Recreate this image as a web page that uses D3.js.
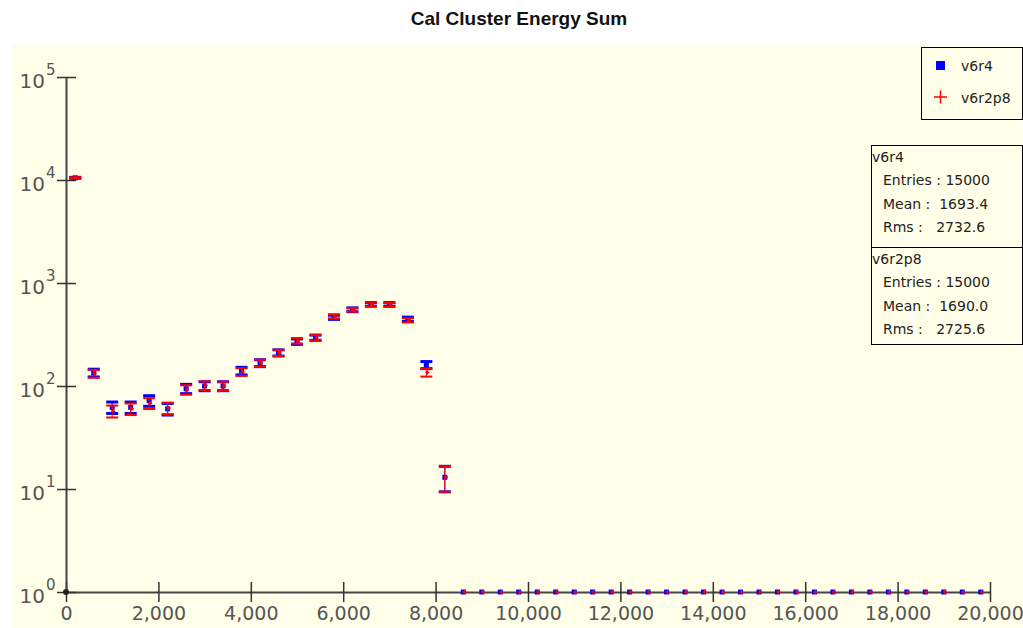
<!DOCTYPE html>
<html>
<head>
<meta charset="utf-8">
<script src="https://cdn.jsdelivr.net/npm/d3@7"></script>
<style>
  body { margin: 0; background: #fff; }
  svg { display: block; }
</style>
</head>
<body>
<svg class="chart" width="1023" height="628"></svg>
<script>
// histogram bins (400 wide), centers in energy units
const binCenters = [200, 600, 1000, 1400, 1800, 2200, 2600, 3000, 3400, 3800,
  4200, 4600, 5000, 5400, 5800, 6200, 6600, 7000, 7400, 7800,
  8200, 8600, 9000, 9400, 9800, 10200, 10600, 11000, 11400, 11800,
  12200, 12600, 13000, 13400, 13800, 14200, 14600, 15000, 15400, 15800,
  16200, 16600, 17000, 17400, 17800, 18200, 18600, 19000, 19400, 19800];
const v6r4 = [10500, 134, 62, 62, 72, 60, 94, 100, 100, 140,
  167, 210, 270, 295, 465, 550, 620, 620, 445, 160,
  13, 0, 0, 0, 0, 0, 0, 0, 0, 0,
  0, 0, 0, 0, 0, 0, 0, 0, 0, 0,
  0, 0, 0, 0, 0, 0, 0, 0, 0, 0];
const v6r2p8 = [10520, 132, 57, 60, 68, 61, 92, 101, 100, 137,
  167, 210, 275, 295, 475, 550, 620, 615, 435, 135,
  13, 0, 0, 0, 0, 0, 0, 0, 0, 0,
  0, 0, 0, 0, 0, 0, 0, 0, 0, 0,
  0, 0, 0, 0, 0, 0, 0, 0, 0, 0];
const xTicks = [0, 2000, 4000, 6000, 8000, 10000, 12000, 14000, 16000, 18000, 20000];
const yTicks = [1, 10, 100, 1000, 10000, 100000];
const seriesNames = ["v6r4", "v6r2p8"];
const statsRows = [
  ["Entries : 15000", "Mean :  1693.4", "Rms :   2732.6"],
  ["Entries : 15000", "Mean :  1690.0", "Rms :   2725.6"]
];

const bg = "#fffee8";
const svg = d3.select(".chart");

svg.append("rect").attr("x", 12).attr("y", 45).attr("width", 1011).attr("height", 583).attr("fill", bg);

svg.append("text").text("Cal Cluster Energy Sum")
  .attr("x", 519).attr("y", 25).attr("text-anchor", "middle")
  .attr("font-family", "Liberation Sans, Arial, sans-serif").attr("font-weight", "bold")
  .attr("font-size", 19).attr("fill", "#111");

const x = d3.scaleLinear().domain([0, 20000]).range([66, 990]);
const y = d3.scaleLog().domain([1, 100000]).range([592, 77]);

// axes
const gx = svg.append("g").attr("transform", "translate(0,592)")
  .call(d3.axisBottom(x).tickValues(xTicks).tickFormat(d3.format(",")).tickSizeOuter(0));
gx.select(".domain").attr("stroke", "#444").attr("stroke-width", 2);
gx.selectAll(".tick line").attr("y1", -10).attr("y2", 10).attr("stroke", "#333").attr("stroke-width", 1.5);
gx.selectAll(".tick text").attr("y", 15).attr("dy", 13)
  .attr("font-family", "DejaVu Sans, sans-serif").attr("font-size", 19).attr("fill", "#555");

const gy = svg.append("g").attr("transform", "translate(66,0)")
  .call(d3.axisLeft(y).tickValues(yTicks).tickFormat("").tickSizeOuter(0));
gy.select(".domain").attr("stroke", "#444").attr("stroke-width", 2);
gy.selectAll(".tick line").attr("x1", -9).attr("x2", 10).attr("stroke", "#333").attr("stroke-width", 1.5);
gy.selectAll(".tick").append("text")
  .attr("x", -21).attr("y", 10).attr("text-anchor", "end")
  .attr("font-family", "DejaVu Sans, sans-serif").attr("font-size", 20).attr("fill", "#555")
  .text("10");
gy.selectAll(".tick").append("text")
  .attr("x", -20).attr("y", -3).attr("text-anchor", "start")
  .attr("font-family", "DejaVu Sans, sans-serif").attr("font-size", 15).attr("fill", "#555")
  .text(d => Math.round(Math.log10(d)));

svg.append("circle").attr("cx", x(0)).attr("cy", y(1)).attr("r", 3).attr("fill", "#222");

// data points with sqrt(N) error bars
function drawSeries(vals, color, capW, capH, marker) {
  const g = svg.append("g");
  const pts = binCenters.map((c, i) => ({ c, v: vals[i] }));
  const nz = pts.filter(d => d.v > 0);
  const z = pts.filter(d => d.v === 0);
  nz.forEach(d => {
    const e = Math.sqrt(d.v);
    const y0 = y(d.v + e), y1 = y(Math.max(d.v - e, 1));
    const cx = x(d.c);
    g.append("line").attr("x1", cx).attr("x2", cx).attr("y1", y0).attr("y2", y1)
      .attr("stroke", color).attr("stroke-width", 1);
    [y0, y1].forEach(yy => g.append("rect")
      .attr("x", cx - capW / 2).attr("y", yy - capH / 2)
      .attr("width", capW).attr("height", capH).attr("fill", color));
  });
  marker(g, nz.concat(z));
}

drawSeries(v6r4, "#0000ff", 12, 3, (g, pts) => {
  g.selectAll("rect.m").data(pts).join("rect").attr("class", "m")
    .attr("x", d => x(d.c) - 2.5).attr("y", d => y(Math.max(d.v, 1)) - 2.5)
    .attr("width", 5).attr("height", 5).attr("fill", "#0000ff");
});
drawSeries(v6r2p8, "#ff0000", 12, 2, (g, pts) => {
  g.selectAll("path.m").data(pts).join("path").attr("class", "m")
    .attr("d", d => {
      const cx = x(d.c) + 1, cy = y(Math.max(d.v, 1));
      return `M${cx - 2},${cy}H${cx + 2}M${cx},${cy - 2}V${cy + 2}`;
    })
    .attr("stroke", "#ff0000").attr("stroke-width", 1.5).attr("fill", "none");
});

// legend
const leg = svg.append("g");
leg.append("rect").attr("x", 921.5).attr("y", 47.5).attr("width", 101).attr("height", 72)
  .attr("fill", bg).attr("stroke", "#000");
leg.append("rect").attr("x", 936).attr("y", 61).attr("width", 9).attr("height", 9).attr("fill", "#0000ff");
leg.append("path").attr("d", "M934,97H947M940.5,90.5V103.5").attr("stroke", "#ff0000").attr("stroke-width", 1.5);
leg.selectAll("text").data(seriesNames).join("text")
  .attr("x", 961).attr("y", (d, i) => 71 + i * 32)
  .attr("font-family", "DejaVu Sans, sans-serif").attr("font-size", 14).attr("fill", "#222")
  .text(d => d);

// stats box
const st = svg.append("g");
st.append("rect").attr("x", 871.5).attr("y", 145.5).attr("width", 151).attr("height", 199)
  .attr("fill", bg).attr("stroke", "#000");
st.append("line").attr("x1", 871).attr("x2", 1023).attr("y1", 247.5).attr("y2", 247.5).attr("stroke", "#000");
seriesNames.forEach((name, k) => {
  const top = 145 + k * 102;
  st.append("text").attr("x", 872).attr("y", top + 17).text(name)
    .attr("font-family", "DejaVu Sans, sans-serif").attr("font-size", 14).attr("fill", "#222");
  statsRows[k].forEach((row, j) => {
    st.append("text").attr("x", 883).attr("y", top + 40 + j * 23.5)
      .attr("xml:space", "preserve").style("white-space", "pre").text(row)
      .attr("font-family", "DejaVu Sans, sans-serif").attr("font-size", 14).attr("fill", "#222");
  });
});
</script>
</body>
</html>
